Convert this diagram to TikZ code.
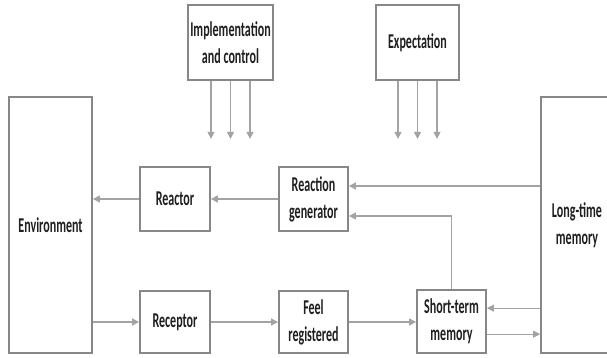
\documentclass[tikz,border=0pt]{standalone}
\usepackage{fontspec}
\setmainfont{Carlito}[FakeStretch=0.57]
\usetikzlibrary{positioning, arrows.meta, calc}
\definecolor{frame}{HTML}{878787}
\definecolor{wire}{HTML}{A3A3A3}
\definecolor{ink}{HTML}{1F1F1F}

\begin{document}
\begin{tikzpicture}[x=0.03cm, y=-0.03cm,
    box/.style={draw=frame, line width=1.5pt, fill=white, text=ink, align=center,
                inner sep=2pt, font=\bfseries\fontsize{18}{23}\selectfont},
    flow/.style={draw=wire, line width=0.9pt, -{Triangle[length=6pt, width=6pt]}}]
  \useasboundingbox (0,0) rectangle (607,357);
  \clip (0,0) rectangle (607,357);

  % Top boxes
  \node[box, minimum width=2.49cm, minimum height=2.25cm] (impl)   at (230.5,42.5) {Implementation\\and control};
  \node[box, minimum width=2.49cm, minimum height=2.25cm] (expect) at (417.5,42.5) {Expectation};

  % Side blocks
  \node[box, minimum width=2.49cm, minimum height=7.68cm] (env) at (50.5,225) {Environment};
  \node[box, minimum width=2.16cm, minimum height=7.68cm] (ltm) at (577,225) {Long-time\\memory};

  % Upper row
  \node[box, minimum width=2.1cm, minimum height=1.92cm] (reactor) at (175,199)   {Reactor};
  \node[box, minimum width=2.07cm, minimum height=1.92cm] (gen)     at (313.5,199) {Reaction\\generator};

  % Lower row
  \node[box, minimum width=2.1cm, minimum height=1.86cm]  (receptor) at (175,322)    {Receptor};
  \node[box, minimum width=2.07cm, minimum height=1.86cm] (feel)     at (313.5,322)  {Feel\\registered};
  \node[box, minimum width=2.07cm, minimum height=1.89cm] (stm)      at (451.5,321.5) {Short-term\\memory};

  % Control inputs
  \foreach \dx in {-19.5, 0, 19.5} {
    \draw[flow] ([xshift=\dx*0.03cm]impl.south) -- ++(0,58);
    \draw[flow] ([xshift=\dx*0.03cm]expect.south) -- ++(0,58);
  }

  % Reaction path
  \coordinate (g1) at ([yshift=0.39cm]gen.east);
  \draw[flow] (ltm.west |- g1) -- (g1);
  \draw[flow] (stm.north) |- ([yshift=-0.51cm]gen.east);
  \draw[flow] (gen.west) -- (reactor.east);
  \draw[flow] (reactor.west) -- (reactor.west -| env.east);

  % Perception path
  \draw[flow] (receptor.west -| env.east) -- (receptor.west);
  \draw[flow] (receptor.east) -- (feel.west);
  \draw[flow] (feel.east) -- (feel.east -| stm.west);
  \coordinate (s1) at ([yshift=0.4cm]stm.east);
  \coordinate (s2) at ([yshift=-0.38cm]stm.east);
  \draw[flow] (s1 -| ltm.west) -- (s1);
  \draw[flow] (s2) -- (s2 -| ltm.west);
\end{tikzpicture}
\end{document}
